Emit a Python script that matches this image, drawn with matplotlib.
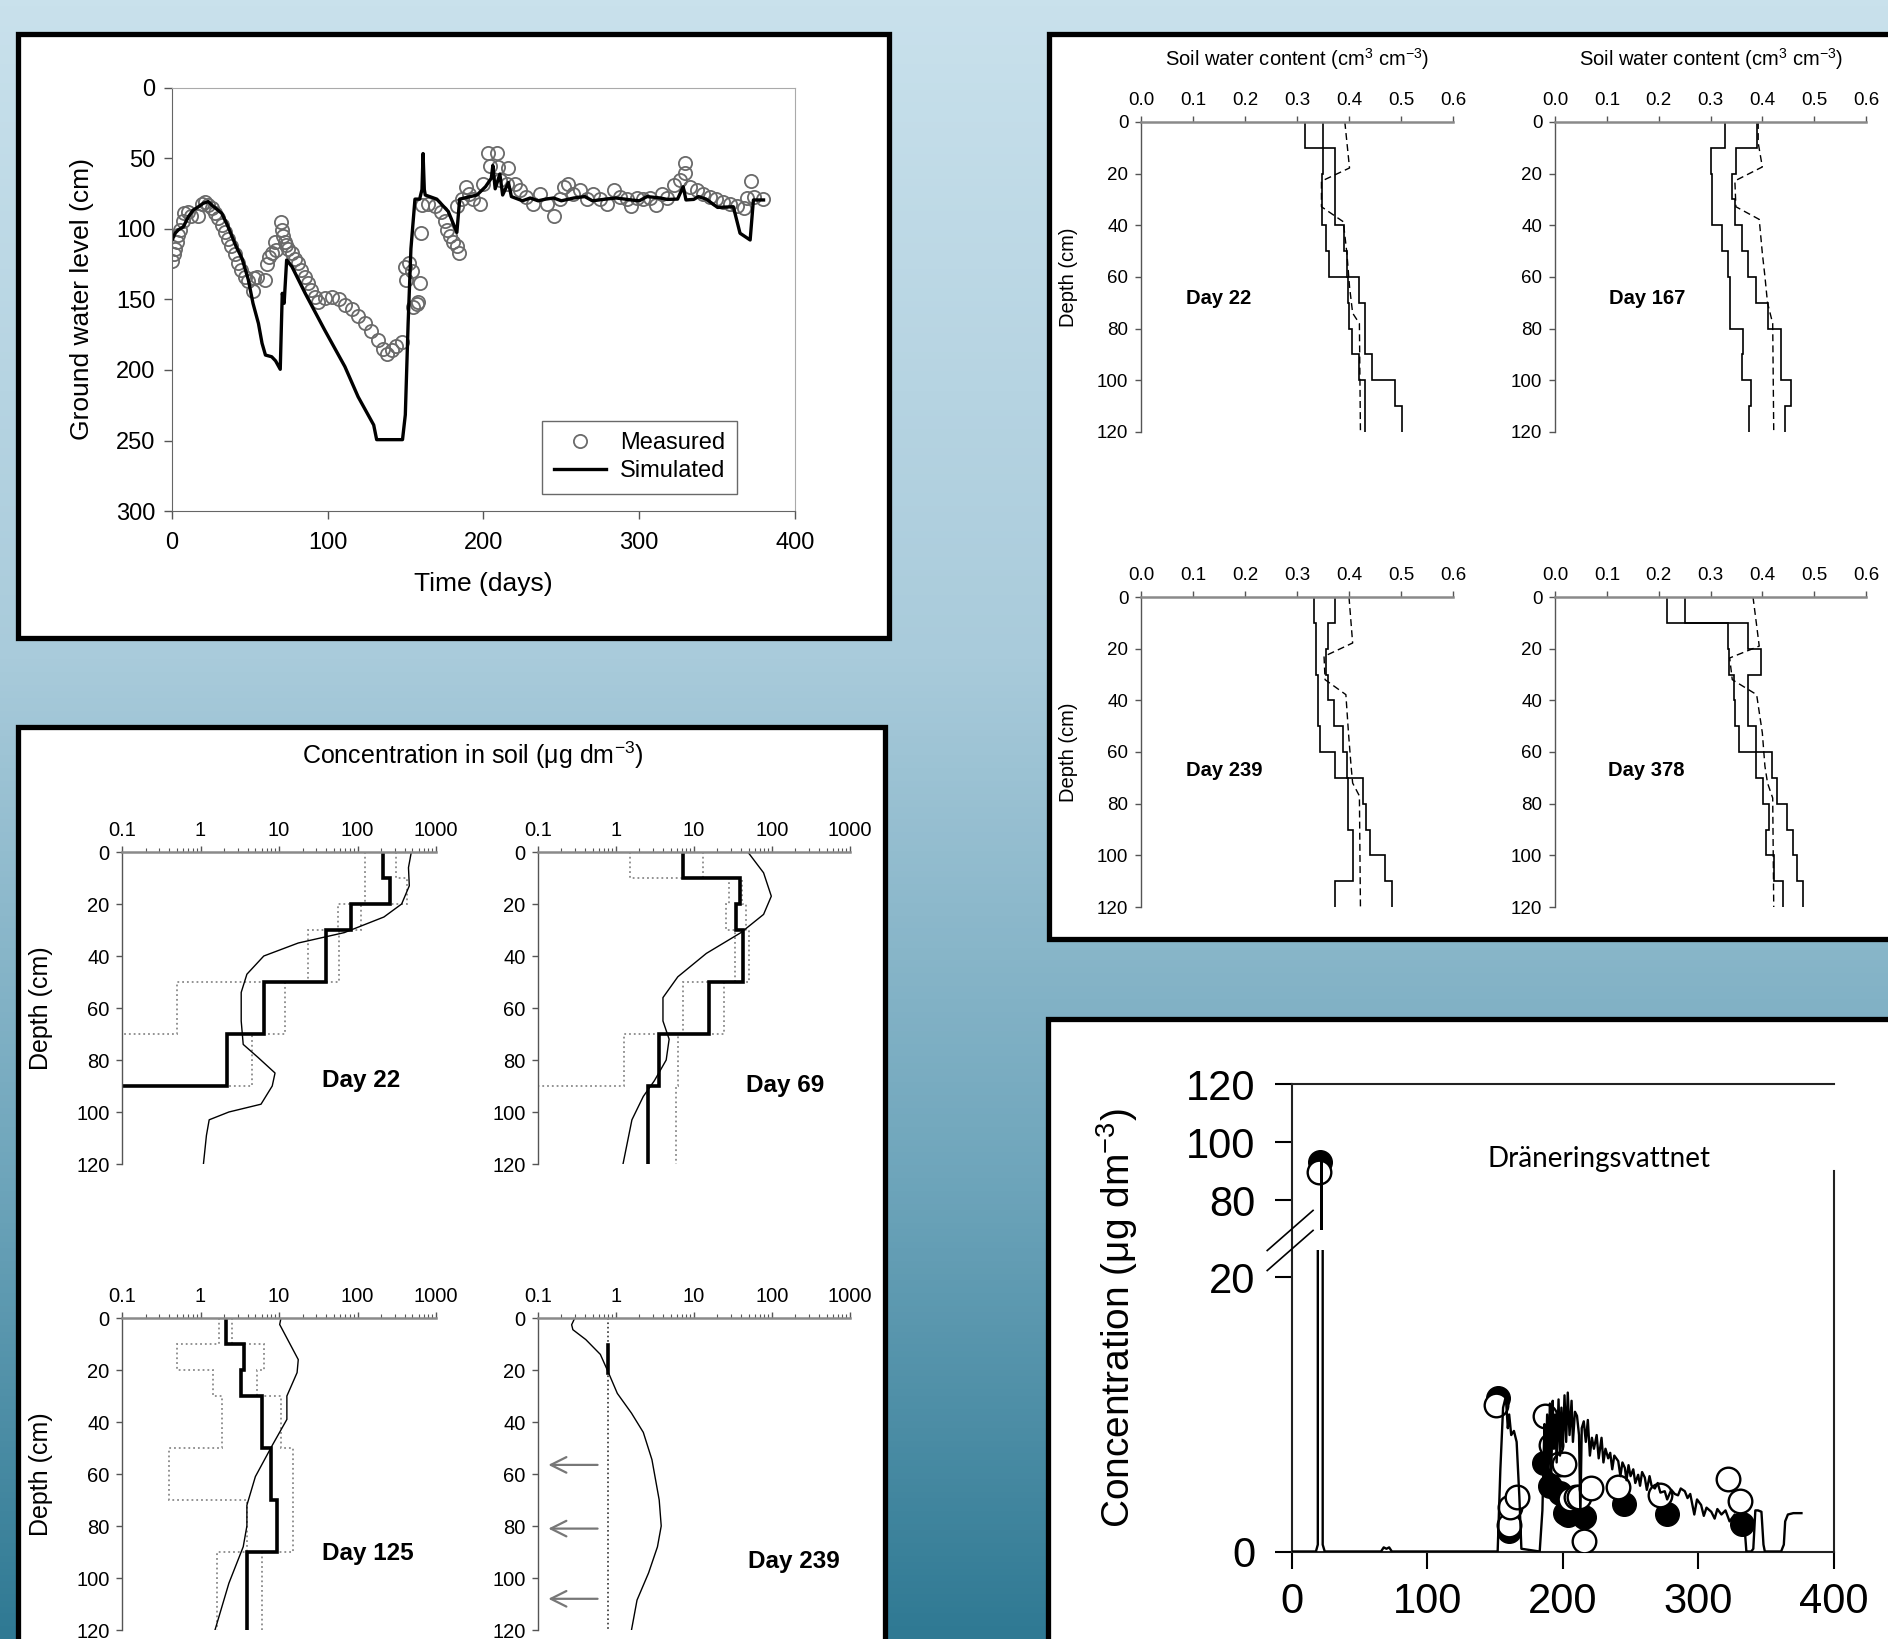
import numpy as np
import matplotlib
matplotlib.use("Agg")
import matplotlib.pyplot as plt
from matplotlib.patches import Rectangle
from matplotlib.colors import LinearSegmentedColormap
from matplotlib.ticker import LogLocator, NullFormatter

plt.rcParams['font.family'] = ['Liberation Sans', 'DejaVu Sans']
plt.rcParams['mathtext.default'] = 'regular'

########################################################################
### Data

## Ground water level (top left)
gw_meas_day = [0, 1, 2, 3, 4, 5, 7, 8, 10.5, 12.5, 17, 19, 21, 23, 25.5, 27.5, 29.5, 32, 34, 36,
               38, 40.5, 42.5, 44.5, 47, 49, 52, 52.5, 54.5, 59.5, 61, 62, 64, 66, 67, 70, 70.5,
               71.5, 72.5, 73.5, 74.5, 77, 79, 81, 83, 85.5, 87.5, 89.5, 92, 94, 98, 102.5, 107,
               111, 115.5, 119.5, 124, 128, 132.5, 135.5, 138, 141, 144, 147.5, 149.5, 150, 152,
               154, 155, 157, 158, 159, 160, 160.5, 164.5, 169, 173, 175, 176.5, 178.5, 180.5,
               183, 184, 183, 186, 189, 191, 193.5, 198, 200, 203, 204, 208.5, 209, 210.5, 215,
               216, 220, 223.5, 227.5, 232, 236.5, 240.5, 245, 249, 251.5, 254.5, 257.5, 262,
               266.5, 270.5, 275, 279, 283.5, 287.5, 292, 295, 298.5, 302.5, 307, 311, 314.5,
               317.5, 322, 326, 329.5, 329.5, 332.5, 337, 341, 345.5, 349.5, 354, 358.5, 362.5,
               367, 369, 372, 373.5, 379.5]
gw_meas = [123, 118, 114, 109, 104, 101, 94, 89, 88, 91, 91, 82, 81, 83, 85, 89, 92, 97, 102, 107,
           112, 118, 124, 129, 134, 137, 144, 135, 134, 136, 125, 120, 117, 109, 115, 95, 101,
           105, 109, 111, 114, 117, 121, 124, 129, 134, 138, 143, 148, 152, 149, 148, 150,
           154, 157, 162, 167, 172, 179, 185, 189, 186, 183, 180, 127, 136, 124,
           130, 155, 153, 152, 138, 103, 83, 82, 84, 88, 94, 101, 105, 109,
           112, 117, 84, 79, 70, 75, 79, 82, 68, 46, 55, 46, 56, 65, 68,
           57, 68, 72, 77, 82, 75, 82, 91, 79, 70, 68, 75, 72,
           79, 75, 79, 82, 72, 77, 79, 84, 78, 79, 78, 83, 75,
           78, 69, 65, 60, 53, 70, 72, 75, 77, 79, 81, 82, 84,
           85, 78, 66, 77, 79]

gw_sim_day = [0, 2, 4, 7.3, 10.5, 13.7, 17, 20, 23.3, 25.5, 32, 36, 41, 45, 49, 52, 55.5, 57.8, 60,
              64, 66.5, 69.5, 70.2, 70.8, 72, 73.6, 77, 85.5, 98, 111, 119.5, 129.5, 131.4, 148,
              149.8, 151.6, 153.4, 156, 159, 160.5, 161.2, 162, 162.6, 170, 177.4, 182.9, 184.7,
              195.8, 201.3, 205, 206, 207.5, 210.5, 212.3, 216, 217.9, 225, 230, 235, 240, 245,
              250, 258, 265, 270, 277, 285, 295, 300, 305, 313.5, 318, 324.6, 328.2, 330, 335,
              338, 343, 350.3, 360.4, 364.7, 371.2, 373.3, 379.8]
gw_sim = [108, 103, 100.7, 98.4, 91.3, 86.5, 84.2, 81.8, 80.6, 83, 88.9, 98.4, 112, 121, 136, 152.7,
          167, 181, 189.4, 190.6, 193.5, 199.5, 170, 145.6, 152.7, 122, 126.7, 145.6, 171.6, 197.6,
          219, 239, 249.4, 249.4, 231.8, 167, 114, 78.8, 78.8, 72, 46.5, 72, 75.9, 78.8, 87.6,
          102.4, 78.8, 75.9, 70, 64, 55, 71.5, 61, 75.9, 67, 77, 80, 78, 80, 78.8, 78, 80, 78, 77,
          80, 79, 78, 79.4, 80, 77, 78, 79, 78.8, 70, 79.4, 79, 77, 78.8, 84.7, 84.2, 103, 107.8,
          79.4, 79.4]

## Soil water content (top right), 10 cm layers
swc_edges = [0, 10, 20, 30, 40, 50, 60, 70, 80, 90, 100, 110, 120]
swc22_a = [0.316, 0.373, 0.373, 0.373, 0.391, 0.396, 0.399, 0.40, 0.406, 0.419, 0.43, 0.43]
swc22_b = [0.35, 0.35, 0.348, 0.348, 0.355, 0.362, 0.42, 0.43, 0.43, 0.444, 0.488, 0.501]
swc22_sim_d = [0, 17.8, 22.9, 32.8, 38.6, 50.9, 63.7, 74, 78, 120]
swc22_sim = [0.392, 0.401, 0.347, 0.347, 0.389, 0.396, 0.401, 0.407, 0.42, 0.422]

swc167_a = [0.328, 0.30, 0.303, 0.303, 0.323, 0.333, 0.337, 0.337, 0.363, 0.36, 0.378, 0.374]
swc167_b = [0.39, 0.349, 0.341, 0.347, 0.36, 0.373, 0.387, 0.41, 0.436, 0.436, 0.455, 0.443]
swc167_sim_d = [0, 8, 17.4, 22.8, 32.8, 37.7, 50.8, 59.8, 70, 78, 120]
swc167_sim = [0.392, 0.392, 0.40, 0.347, 0.349, 0.394, 0.40, 0.405, 0.41, 0.42, 0.422]

swc239_a = [0.333, 0.336, 0.336, 0.34, 0.34, 0.345, 0.373, 0.399, 0.399, 0.407, 0.407, 0.373]
swc239_b = [0.373, 0.359, 0.355, 0.359, 0.372, 0.389, 0.396, 0.427, 0.433, 0.44, 0.469, 0.482]
swc239_sim_d = [0, 17.8, 23, 32, 37.8, 52.6, 65.5, 72, 77, 120]
swc239_sim = [0.40, 0.407, 0.352, 0.354, 0.394, 0.399, 0.404, 0.407, 0.42, 0.422]

swc378_a = [0.217, 0.373, 0.397, 0.373, 0.373, 0.387, 0.387, 0.401, 0.412, 0.408, 0.422, 0.439]
swc378_b = [0.25, 0.334, 0.336, 0.345, 0.347, 0.355, 0.418, 0.428, 0.448, 0.459, 0.467, 0.478]
swc378_sim_d = [0, 11, 19, 23.6, 32, 37.8, 52.6, 65.5, 72, 77.8, 120]
swc378_sim = [0.382, 0.389, 0.394, 0.337, 0.342, 0.389, 0.40, 0.405, 0.41, 0.42, 0.422]

## Concentration in soil (bottom left)
cs_edges = [0, 10, 20, 30, 50, 70, 90, 120]
cs22_meas = [209, 260, 83, 39.5, 6.4, 2.2, 0.05]
cs22_min = [125, 125, 57, 23.5, 0.5, 0.05, 0.05]
cs22_max = [310, 430, 110, 58, 12, 4.5, 0.05]
cs22_sim_d = [0, 6, 13, 20, 25, 31, 35, 40, 47, 54, 65, 74, 79, 85, 90, 97, 100, 103, 109, 120]
cs22_sim = [485, 446, 457, 365, 217, 68, 17.6, 6.4, 3.9, 3.3, 3.3, 3.5, 5.4, 8.9, 8.2, 5.9, 2.3,
            1.29, 1.19, 1.09]

cs69_meas = [7.3, 38.5, 35, 42.5, 15.7, 3.6, 2.55]
cs69_min = [1.5, 28, 26, 34, 7.3, 1.27, 0.05]
cs69_max = [13.2, 41, 47, 51, 24, 6.2, 5.9]
cs69_sim_d = [0, 8, 17, 24, 31, 39, 48, 56, 65, 72, 80, 88, 94, 103, 120]
cs69_sim = [49, 78, 98, 78, 40, 14.4, 6.2, 4, 4, 4.8, 4.4, 3.1, 2.24, 1.6, 1.23]

cs125_meas = [2.14, 3.55, 3.27, 6.1, 7.8, 9.4, 3.86]
cs125_min = [1.72, 0.5, 1.46, 1.9, 0.4, 3.86, 1.6]
cs125_max = [2.5, 6.4, 5.2, 10.6, 15.3, 15.3, 6.0]
cs125_sim_d = [0, 2.5, 16, 21, 30, 39, 49, 61, 72, 80, 88, 102, 120]
cs125_sim = [10.6, 10.2, 17.6, 17, 12.6, 12.6, 8.2, 5, 3.9, 3.9, 3.5, 2.3, 1.53]

cs239_lod = 0.8
cs239_meas_d = [10.5, 21]
cs239_sim_d = [0.6, 2.6, 4.5, 8.3, 14, 21, 29, 36.6, 44, 54.5, 70, 80, 88, 98, 108.5, 120]
cs239_sim = [0.29, 0.27, 0.28, 0.41, 0.63, 0.8, 1.04, 1.58, 2.24, 2.89, 3.58, 3.8, 3.4, 2.62,
             1.86, 1.58]
cs239_arrow_d = [56.5, 81, 108]

## Drainage water concentration (bottom right)
dr_sim_day = [0, 18, 19.4, 19.4, 22, 22, 22.3, 23, 23, 24.5, 66, 68, 70, 72, 74, 152, 154, 156, 158,
              159.5, 160.5, 162, 164, 166, 168, 169.5, 183, 185, 186.5, 187.5, 188.5, 189.5, 190.5,
              191.5, 192.6, 193.5, 194.5, 195.5, 196.9, 198, 199, 200, 201.3, 202.5, 203.7, 205,
              206.5, 207.5, 209, 210.5, 212, 213, 214, 215.5, 217, 218.5, 220, 221.5, 223, 225,
              226.5, 228.6, 230, 231.5, 233.5, 235, 236.5, 238, 240.9, 242.5, 244, 245.8, 247,
              248.5, 250, 252, 253.5, 255.6, 257, 258.5, 260.5, 262, 264, 265.5, 267.9, 270, 272,
              275.2, 277, 280, 282.6, 285, 287, 290, 292, 294, 297, 299, 302, 304, 306, 309.5,
              312, 314, 317, 320, 323, 326.8, 329, 331.7, 333.5, 335.4, 339, 340.5, 342, 344,
              346.5, 348, 349, 361, 363, 364, 366, 370, 376]
dr_sim = [0, 0, 0.5, 41, 57, 96, 57, 41, 0.5, 0, 0, 0.3, 0.2, 0.3, 0, 0, 6, 10.5, 11.3,
          9, 10, 8.5, 8.8, 8, 4, 0.2, 0, 3, 9.3, 6.5, 10, 6, 10.8,
          5.5, 11, 7.5, 10, 6.5, 11.1, 7, 10.5, 7.5, 11.4, 8, 11.6, 8.5,
          11, 8, 10.2, 9.9, 8.5, 2.6, 9, 9.5, 8, 9.6, 7, 8.3, 7.5, 8.5,
          6.8, 8.3, 6.5, 7.5, 6.8, 7.2, 6, 7, 6.6, 5.5, 6.5, 6.1, 5.2,
          6.3, 5.5, 6, 5, 5.6, 4.8, 5.8, 5.4, 4.5, 5.5, 4.8, 4.6, 5, 4.3,
          4.4, 3.8, 4.5, 4.2, 4.1, 4.6, 4.4, 3.9, 4.2, 2.7, 3.8, 3.4, 2.6, 3.2, 2.9,
          2.4, 3.1, 2.7, 3.0, 2.2, 2.7, 2.3, 1.7, 2.5, 0, 0, 0.2, 3.0, 3.0,
          2.9, 0.5, 0, 0, 0.5, 2.2, 2.7, 2.8, 2.8]
dr_open_day = [20, 151, 160, 161, 166, 187, 191, 197, 201, 205, 209.5, 212, 221, 215.5, 240.5,
               271.5, 322, 330.5]
dr_open = [89.7, 10.7, 1.9, 3.25, 4.0, 9.9, 7.8, 6.4, 6.4, 3.8, 4.0, 4.0, 4.6, 0.75, 4.7, 4.1,
           5.3, 3.7]
dr_fill_day = [21, 152.5, 160.5, 186, 190.5, 198, 202, 204, 216, 245, 276.5, 332]
dr_fill = [93, 11.2, 1.5, 6.45, 4.8, 4.25, 2.8, 2.7, 2.55, 3.45, 2.75, 2.0]

########################################################################
### Figure, background and panels
W, H = 1888, 1639
fig = plt.figure(figsize=(W / 100, H / 100), dpi=100)


def fbox(x0, y0, x1, y1):
    # pixel box (top-left origin) -> [left, bottom, width, height] in figure fraction
    return [x0 / W, 1 - y1 / H, (x1 - x0) / W, (y1 - y0) / H]


def ftext(x, y, s, **kw):
    fig.text(x / W, 1 - y / H, s, ha='center', va='center', **kw)


bg = fig.add_axes([0, 0, 1, 1], zorder=-10)
bg_cmap = LinearSegmentedColormap.from_list(
    'bg', [(0, '#c9e1ec'), (0.4, '#a9cbdb'), (0.72, '#6ea5bb'), (1, '#2f7993')])
bg.imshow(np.linspace(0, 1, 256)[:, None], aspect='auto', cmap=bg_cmap,
          extent=[0, 1, 0, 1], origin='upper')
bg.axis('off')

for (x0, y0, x1, y1) in [(18, 34, 889, 638), (18, 727, 885, 1660),
                         (1049, 34, 1910, 939), (1048, 1019, 1910, 1660)]:
    l, b, w, h = fbox(x0, y0, x1, y1)
    fig.add_artist(Rectangle((l, b), w, h, transform=fig.transFigure, facecolor='white',
                             edgecolor='black', lw=3.8, zorder=-5))

########################################################################
### Ground water level
ax1 = fig.add_axes(fbox(172, 88, 795, 511))
ax1.set_facecolor('none')
ax1.plot(gw_meas_day, gw_meas, 'o', mfc='none', mec='#6a6a6a', ms=9.5, mew=1.3,
         label='Measured')
ax1.plot(gw_sim_day, gw_sim, '-', color='black', lw=2.4, label='Simulated')
ax1.set_xlim(0, 400)
ax1.set_ylim(300, 0)
ax1.set_xticks([0, 100, 200, 300, 400])
ax1.set_yticks([0, 50, 100, 150, 200, 250, 300])
ax1.tick_params(direction='out', length=6, width=1, colors='#555', labelcolor='black',
                labelsize=17, pad=6)
ax1.tick_params(axis='x', pad=9)
for s in ['left', 'bottom']:
    ax1.spines[s].set_color('#666')
for s in ['top', 'right']:
    ax1.spines[s].set_color('#aaa')
leg = ax1.legend(loc='lower right', bbox_to_anchor=(0.907, 0.04), fancybox=False,
                 edgecolor='#444', fontsize=17, handlelength=2.2, borderpad=0.5,
                 labelspacing=0.25, handletextpad=0.6, borderaxespad=0)
leg.get_frame().set_linewidth(1.0)
ftext(82, 299.5, 'Ground water level (cm)', rotation=90, fontsize=19)
ftext(483.5, 584, 'Time (days)', fontsize=19)


########################################################################
### Soil water content profiles
def profile_axes(box, ylabel_size):
    ax = fig.add_axes(fbox(*box))
    ax.set_facecolor('none')
    ax.xaxis.tick_top()
    for s in ['right', 'bottom']:
        ax.spines[s].set_visible(False)
    ax.spines['top'].set_color('#8a8a8a')
    ax.spines['top'].set_linewidth(1.8)
    ax.spines['left'].set_color('#555')
    ax.spines['left'].set_linewidth(1.0)
    ax.set_ylim(120, 0)
    ax.set_yticks([0, 20, 40, 60, 80, 100, 120])
    ax.tick_params(direction='out', length=4, width=1, colors='#555', labelcolor='black',
                   labelsize=ylabel_size, pad=5)
    return ax


swc_sets = [((1141, 122, 1453, 432), swc22_a, swc22_b, swc22_sim_d, swc22_sim, 'Day 22',
             (0.149, 68.3)),
            ((1555, 122, 1866, 432), swc167_a, swc167_b, swc167_sim_d, swc167_sim, 'Day 167',
             (0.177, 68.3)),
            ((1141, 597, 1453, 907), swc239_a, swc239_b, swc239_sim_d, swc239_sim, 'Day 239',
             (0.16, 67)),
            ((1555, 597, 1866, 907), swc378_a, swc378_b, swc378_sim_d, swc378_sim, 'Day 378',
             (0.177, 67))]
for box, a, b, sd, sv, lab, (tx, ty) in swc_sets:
    ax = profile_axes(box, 13.5)
    ax.stairs(a, swc_edges, orientation='horizontal', baseline=None, color='black', lw=1.2)
    ax.stairs(b, swc_edges, orientation='horizontal', baseline=None, color='black', lw=1.2)
    ax.plot(sv, sd, color='black', lw=1.0, dashes=(5, 3))
    ax.set_xlim(0, 0.6)
    ax.set_xticks([0.0, 0.1, 0.2, 0.3, 0.4, 0.5, 0.6])
    ax.set_xticklabels(['0.0', '0.1', '0.2', '0.3', '0.4', '0.5', '0.6'])
    ax.text(tx, ty, lab, ha='center', va='center', fontsize=14.5, fontweight='bold')

for cx in [1297, 1711]:
    ftext(cx, 59, 'Soil water content (cm$^{3}$ cm$^{-3}$)', fontsize=14.5)
for cy in [277, 752]:
    ftext(1068, cy, 'Depth (cm)', rotation=90, fontsize=14.5)


########################################################################
### Concentration in soil profiles
def log_axes(box):
    ax = profile_axes(box, 14.5)
    ax.set_xscale('log')
    ax.set_xlim(0.1, 1000)
    ax.set_xticks([0.1, 1, 10, 100, 1000])
    ax.set_xticklabels(['0.1', '1', '10', '100', '1000'])
    ax.xaxis.set_minor_locator(LogLocator(base=10, subs=np.arange(2, 10)))
    ax.xaxis.set_minor_formatter(NullFormatter())
    ax.tick_params(axis='x', which='minor', direction='out', length=3, width=0.8,
                   colors='#555', top=True, bottom=False)
    return ax


cs_sets = [((122, 852, 436, 1164), cs22_meas, cs22_min, cs22_max, cs22_sim_d, cs22_sim,
            'Day 22', (110, 87.7)),
           ((538, 852, 850, 1164), cs69_meas, cs69_min, cs69_max, cs69_sim_d, cs69_sim,
            'Day 69', (148, 89.7)),
           ((122, 1318, 436, 1630), cs125_meas, cs125_min, cs125_max, cs125_sim_d, cs125_sim,
            'Day 125', (137, 90.5))]
for box, meas, lo, hi, sd, sv, lab, (tx, ty) in cs_sets:
    ax = log_axes(box)
    ax.stairs(lo, cs_edges, orientation='horizontal', baseline=None, color='#8a8a8a',
              lw=1.3, ls=':')
    ax.stairs(hi, cs_edges, orientation='horizontal', baseline=None, color='#8a8a8a',
              lw=1.3, ls=':')
    ax.stairs(meas, cs_edges, orientation='horizontal', baseline=None, color='black', lw=2.6)
    ax.plot(sv, sd, color='black', lw=1.0)
    ax.text(tx, ty, lab, ha='center', va='center', fontsize=17.5, fontweight='bold')

ax = log_axes((538, 1318, 850, 1630))
ax.plot([cs239_lod, cs239_lod], [0, 120], color='#333', lw=1.2, ls=':')
ax.plot([cs239_lod, cs239_lod], cs239_meas_d, color='black', lw=2.6)
ax.plot(cs239_sim, cs239_sim_d, color='black', lw=1.0)
for d in cs239_arrow_d:
    ax.annotate('', xy=(0.125, d), xytext=(0.63, d),
                arrowprops=dict(arrowstyle='->', color='#777', lw=1.6, mutation_scale=28))
ax.text(191, 93.7, 'Day 239', ha='center', va='center', fontsize=17.5, fontweight='bold')

ftext(473, 755, 'Concentration in soil (μg dm$^{-3}$)', fontsize=18)
for cy in [1008, 1474]:
    ftext(41, cy, 'Depth (cm)', rotation=90, fontsize=18)


########################################################################
### Drainage water (broken y axis)
def fwd(y):
    y = np.asarray(y, float)
    return np.where(y <= 20, y, np.where(y <= 80, 20 + (y - 20) * 0.0942,
                                         25.652 + (y - 80) * 0.2118))


def inv(u):
    u = np.asarray(u, float)
    return np.where(u <= 20, u, np.where(u <= 25.652, 20 + (u - 20) / 0.0942,
                                         80 + (u - 25.652) / 0.2118))


ax4 = fig.add_axes(fbox(1291.5, 1084, 1834, 1551.5))
ax4.set_facecolor('none')
ax4.set_yscale('function', functions=(fwd, inv))
ax4.set_xlim(0, 400)
ax4.set_ylim(0, 120)
ax4.plot(dr_fill_day, dr_fill, 'o', mfc='black', mec='black', ms=17, zorder=3)
ax4.plot(dr_open_day, dr_open, 'o', mfc='white', mec='black', ms=17, mew=1.7, zorder=4)
ax4.plot(dr_sim_day, dr_sim, color='black', lw=1.7, zorder=5)
ax4.add_patch(Rectangle((16, 41.5), 10, 15, facecolor='white', edgecolor='none', zorder=6))
for y_a, y_b in [(40.9, 72.0), (25.4, 56.5)]:
    ax4.plot([-17.9, 15.9], [y_a, y_b], color='black', lw=1.2, clip_on=False, zorder=7)
ax4.set_xticks([0, 100, 200, 300, 400])
ax4.set_yticks([0, 20, 80, 100, 120])
ax4.set_yticklabels(['0', '20', '80', '100', '120'])
ax4.minorticks_off()
ax4.tick_params(axis='x', direction='out', length=12, width=1.5, labelsize=30, pad=10)
ax4.tick_params(axis='y', direction='out', length=12, width=1.5, labelsize=30, pad=14)
for s in ax4.spines.values():
    s.set_linewidth(1.5)
    s.set_color('#222')
ax4.spines['right'].set_bounds(0, 90)
ax4.text(226.8, 94, 'Dräneringsvattnet', ha='center', va='center', fontsize=20,
         family=['Lato', 'DejaVu Sans'])
ftext(1117, 1318, 'Concentration (μg dm$^{-3}$)', rotation=90, fontsize=28)

fig.savefig('out.png', dpi=100)
